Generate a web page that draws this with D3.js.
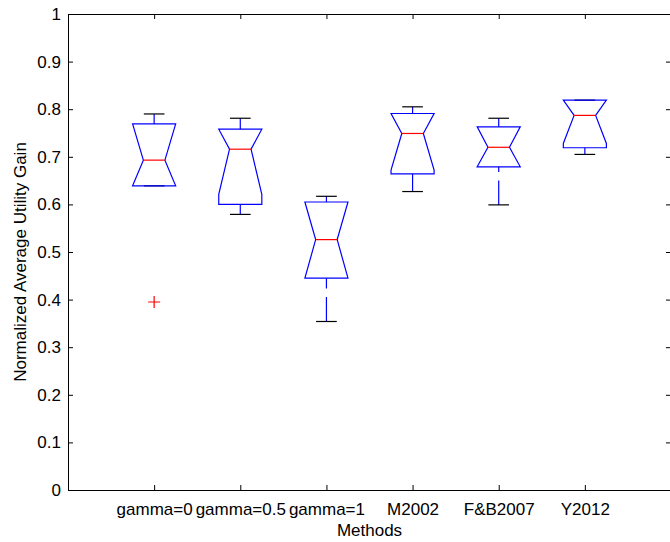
<!DOCTYPE html>
<html>
<head>
<meta charset="utf-8">
<script src="https://cdn.jsdelivr.net/npm/d3@7"></script>
<style>
  body { margin: 0; background: #fff; }
  text { font-family: "Liberation Sans", Arial, sans-serif; }
</style>
</head>
<body>
<div id="boxplot-container"></div>
<script>
// values (one entry per method)
const methods = ["gamma=0", "gamma=0.5", "gamma=1", "M2002", "F&B2007", "Y2012"];
const upperWhisker = [0.790, 0.781, 0.617, 0.805, 0.781, 0.819];
const q3 = [0.769, 0.758, 0.605, 0.791, 0.763, 0.819];
const medians = [0.693, 0.716, 0.526, 0.749, 0.720, 0.787];
const q1 = [0.639, 0.600, 0.445, 0.664, 0.679, 0.719];
const lowerWhisker = [0.639, 0.579, 0.354, 0.627, 0.599, 0.705];
// notch limits (clipped to the box where they would go past it)
const notchHi = [0.769, 0.758, 0.605, 0.791, 0.763, 0.819];
const notchLo = [0.639, 0.621, 0.445, 0.672, 0.679, 0.728];
// outliers
const outlierGroup = [1];
const outlierValue = [0.395];
// y ticks
const yTicks = [0, 0.1, 0.2, 0.3, 0.4, 0.5, 0.6, 0.7, 0.8, 0.9, 1];

// set the dimensions and margins of the graph
const margin = {top: 14, right: -1, bottom: 52, left: 68},
  width = 670 - margin.left - margin.right,
  height = 542 - margin.top - margin.bottom;

const svg = d3.select("#boxplot-container")
  .append("svg")
  .attr("width", 670)
  .attr("height", 542)
  .append("g")
  .attr("transform", `translate(${margin.left},${margin.top})`);

// scales
const x = d3.scaleLinear().domain([0, 7]).range([0, width]);
const y = d3.scaleLinear().domain([0, 1]).range([height, 0]);

const boxHalf = 0.25, notchHalf = 0.125, capHalf = 0.12;

const data = methods.map((m, i) => ({
  pos: i + 1, name: m,
  hi: upperWhisker[i], q3: q3[i], med: medians[i], q1: q1[i], lo: lowerWhisker[i],
  nHi: notchHi[i], nLo: notchLo[i]
}));

// whiskers (dashed, drawn from the cap toward the box)
svg.selectAll(".whisker-up")
  .data(data.filter(d => d.hi > d.q3))
  .join("line")
  .attr("x1", d => x(d.pos)).attr("x2", d => x(d.pos))
  .attr("y1", d => y(d.hi)).attr("y2", d => y(d.q3))
  .attr("stroke", "#0000ff").attr("stroke-width", 1.2)
  .attr("stroke-dasharray", "24.5,8.5");

svg.selectAll(".whisker-down")
  .data(data.filter(d => d.lo < d.q1))
  .join("line")
  .attr("x1", d => x(d.pos)).attr("x2", d => x(d.pos))
  .attr("y1", d => y(d.lo)).attr("y2", d => y(d.q1))
  .attr("stroke", "#0000ff").attr("stroke-width", 1.2)
  .attr("stroke-dasharray", "24.5,8.5");

// caps
["hi", "lo"].forEach(k => {
  svg.selectAll(".cap-" + k)
    .data(data)
    .join("line")
    .attr("x1", d => x(d.pos - capHalf)).attr("x2", d => x(d.pos + capHalf))
    .attr("y1", d => y(d[k])).attr("y2", d => y(d[k]))
    .attr("stroke", "#000").attr("stroke-width", 1.2);
});

// notched boxes
const line = d3.line();
svg.selectAll(".box")
  .data(data)
  .join("path")
  .attr("d", d => line([
    [x(d.pos - boxHalf), y(d.q1)],
    [x(d.pos - boxHalf), y(d.nLo)],
    [x(d.pos - notchHalf), y(d.med)],
    [x(d.pos - boxHalf), y(d.nHi)],
    [x(d.pos - boxHalf), y(d.q3)],
    [x(d.pos + boxHalf), y(d.q3)],
    [x(d.pos + boxHalf), y(d.nHi)],
    [x(d.pos + notchHalf), y(d.med)],
    [x(d.pos + boxHalf), y(d.nLo)],
    [x(d.pos + boxHalf), y(d.q1)]
  ]) + "Z")
  .attr("fill", "none")
  .attr("stroke", "#0000ff")
  .attr("stroke-width", 1.2);

// medians
svg.selectAll(".median")
  .data(data)
  .join("line")
  .attr("x1", d => x(d.pos - notchHalf)).attr("x2", d => x(d.pos + notchHalf))
  .attr("y1", d => y(d.med)).attr("y2", d => y(d.med))
  .attr("stroke", "#ff0000").attr("stroke-width", 1.2);

// outliers as red plus signs
const outliers = outlierGroup.map((g, i) => ({pos: g, value: outlierValue[i]}));
svg.selectAll(".outlier")
  .data(outliers)
  .join("path")
  .attr("d", d => {
    const cx = x(d.pos), cy = y(d.value);
    return `M${cx - 6},${cy}H${cx + 6}M${cx},${cy - 6}V${cy + 6}`;
  })
  .attr("stroke", "#ff0000").attr("stroke-width", 1.2).attr("fill", "none");

// axes (ticks point inward, MATLAB style)
function styleAxis(g) {
  g.style("color", "#000")
    .attr("font-size", 17)
    .attr("font-family", "'Liberation Sans', Arial, sans-serif");
  g.selectAll("text").attr("fill", "#000");
}

svg.append("g")
  .attr("transform", `translate(0,${height})`)
  .call(d3.axisBottom(x).tickValues(d3.range(1, 7)).tickFormat(i => methods[i - 1])
    .tickSizeInner(-5).tickSizeOuter(0).tickPadding(13))
  .call(styleAxis);

svg.append("g")
  .call(d3.axisTop(x).tickValues(d3.range(1, 7)).tickFormat("")
    .tickSizeInner(-5).tickSizeOuter(0))
  .call(styleAxis);

svg.append("g")
  .call(d3.axisLeft(y).tickValues(yTicks).tickFormat(d => String(d))
    .tickSizeInner(-5).tickSizeOuter(0).tickPadding(7))
  .call(styleAxis);

svg.append("g")
  .attr("transform", `translate(${width},0)`)
  .call(d3.axisRight(y).tickValues(yTicks).tickFormat("")
    .tickSizeInner(-5).tickSizeOuter(0))
  .call(styleAxis);

// axis titles
svg.append("text")
  .attr("x", width / 2)
  .attr("y", height + 46)
  .attr("text-anchor", "middle")
  .attr("font-size", 17)
  .attr("fill", "#000")
  .text("Methods");

svg.append("text")
  .attr("transform", "rotate(-90)")
  .attr("x", -(height / 2) - 10)
  .attr("y", -42)
  .attr("text-anchor", "middle")
  .attr("font-size", 17)
  .attr("fill", "#000")
  .text("Normalized Average Utility Gain");
</script>
</body>
</html>
